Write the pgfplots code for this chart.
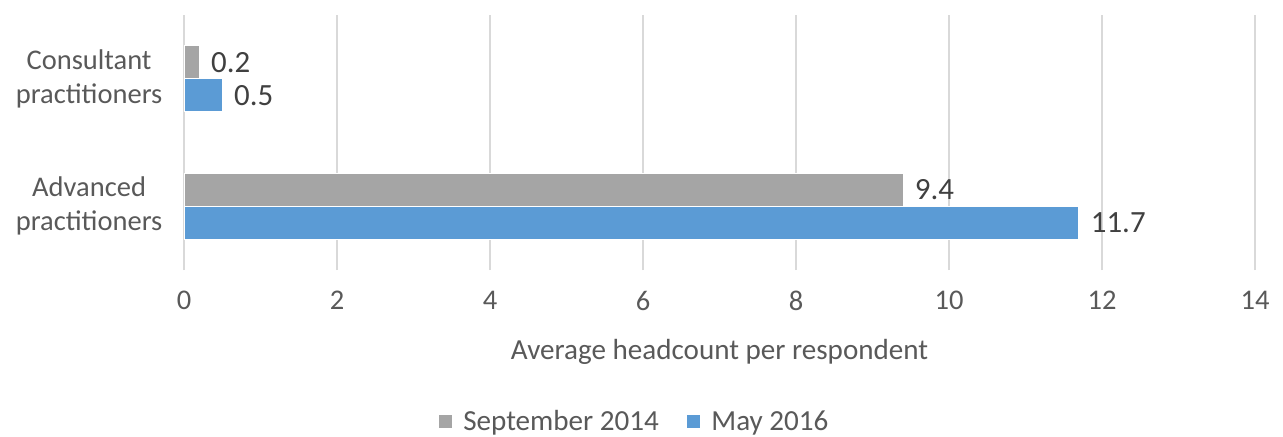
\documentclass[border=0pt]{standalone}
\usepackage{fontspec}
\setmainfont{Carlito}
\usepackage{pgfplots}
\pgfplotsset{compat=1.18}
\definecolor{sgrey}{HTML}{A5A5A5}
\definecolor{sblue}{HTML}{5B9BD5}
\definecolor{gridc}{HTML}{D9D9D9}
\definecolor{txt}{HTML}{595959}
\definecolor{val}{HTML}{404040}
\begin{document}
\begin{tikzpicture}[x=1bp,y=1bp]
\path[use as bounding box] (0,0) rectangle (641.5,218);
\begin{axis}[
  at={(92bp,83bp)}, anchor=south west,
  scale only axis, width=535.5bp, height=127.5bp,
  xmin=0, xmax=14, ymin=-0.5, ymax=1.5,
  xtick={0,2,...,14}, ytick={0,1},
  yticklabels={{Advanced\\practitioners},{Consultant\\practitioners}},
  /pgf/number format/assume math mode=true,
  yticklabel style={align=center, font=\fontsize{14.3}{17}\selectfont, text=txt, xshift=-7.3bp},
  xticklabel style={font=\fontsize{14.3}{16}\selectfont, text=txt, yshift=-7bp},
  axis line style={draw=none},
  major tick length=0pt,
  xmajorgrids,
  major grid style={draw=gridc, line width=1bp},
  xlabel={Average headcount per respondent},
  xlabel style={at={(axis description cs:0.5,0)}, anchor=center, yshift=-41bp, font=\fontsize{14.6}{16}\selectfont, text=txt},
  xbar, bar width=16.5bp,
  nodes near coords,
  nodes near coords style={/pgf/number format/fixed, /pgf/number format/precision=1, /pgf/number format/fixed zerofill},
  every node near coord/.append style={font=\fontsize{15.5}{17}\selectfont, text=val, xshift=2.3bp},
  legend style={at={(axis description cs:0.4216,-0.596)}, anchor=center, draw=none,
    legend columns=2, font=\fontsize{14.6}{16}\selectfont, text=txt,
    /tikz/every even column/.append style={column sep=12bp}},
  legend image code/.code={\fill[#1,draw=none] (0bp,-3.25bp) rectangle (6.5bp,3.25bp); \path (10bp,0bp);},
]
\addplot[fill=sgrey, draw=white, line width=0.6bp, bar shift=8.25bp] coordinates {(9.4,0) (0.2,1)};
\addplot[fill=sblue, draw=white, line width=0.6bp, bar shift=-8.25bp] coordinates {(11.7,0) (0.5,1)};
\legend{September 2014, May 2016}
\end{axis}
\end{tikzpicture}
\end{document}
